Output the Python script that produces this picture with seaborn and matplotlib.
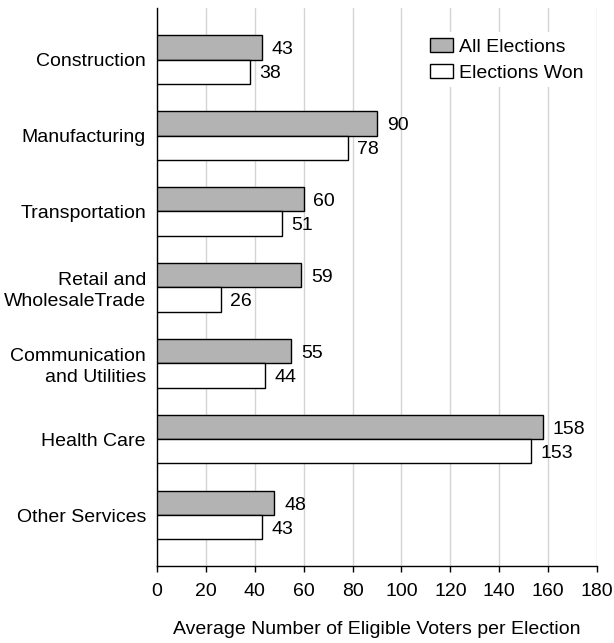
import pandas as pd
import numpy as np
import matplotlib
matplotlib.use("Agg")
import matplotlib.pyplot as plt
import seaborn as sns

# data
industries = ["Construction", "Manufacturing", "Transportation",
              "Retail and\nWholesaleTrade", "Communication\nand Utilities",
              "Health Care", "Other Services"]
all_elections = [43, 90, 60, 59, 55, 158, 48]
elections_won = [38, 78, 51, 26, 44, 153, 43]
series = ["All Elections", "Elections Won"]

df = pd.DataFrame({
    "industry": industries * 2,
    "voters": all_elections + elections_won,
    "series": [series[0]] * len(industries) + [series[1]] * len(industries),
})

sns.set_style("white")
plt.rcParams["font.family"] = ["Liberation Sans", "DejaVu Sans"]
plt.rcParams["font.size"] = 14
plt.rcParams["text.color"] = "black"
plt.rcParams["xtick.color"] = "black"
plt.rcParams["ytick.color"] = "black"
plt.rcParams["axes.labelcolor"] = "black"

fig = plt.figure(figsize=(6.14, 6.43), dpi=100)
ax = fig.add_axes([0.2557, 0.1198, 0.7166, 0.8678])

sns.barplot(data=df, y="industry", x="voters", hue="series", orient="h",
            palette={"All Elections": "#b3b3b3", "Elections Won": "white"},
            edgecolor="black", linewidth=1, width=0.64, ax=ax, zorder=3)

# value labels, nudged a little below the bar centre like the original
for c in ax.containers:
    for t in ax.bar_label(c, padding=7, fontsize=14):
        t.xyann = (7, -1.5)

ax.set_xlim(0, 180)
ax.set_ylim(6.67, -0.68)
ax.set_xticks(np.arange(0, 181, 20))
ax.xaxis.grid(True, color="#d4d4d4", linewidth=1, zorder=0)
ax.set_axisbelow(True)
for s in ["top", "right"]:
    ax.spines[s].set_visible(False)
for s in ["left", "bottom"]:
    ax.spines[s].set_color("black")
    ax.spines[s].set_linewidth(1)
ax.tick_params(axis="x", bottom=True, length=4.5, width=1, color="black",
               labelsize=14, pad=8)
ax.tick_params(axis="y", left=False, length=0, labelsize=14, pad=8)
for t in ax.get_yticklabels():
    t.set_linespacing(1.3)
ax.set_ylabel("")
ax.set_xlabel("Average Number of Eligible Voters per Election", fontsize=14,
              labelpad=15)

leg = ax.legend(loc="upper right", bbox_to_anchor=(1.004, 0.974), frameon=True,
                fontsize=14, handlelength=1.2, handleheight=0.72,
                handletextpad=0.3, labelspacing=0.42, borderpad=0.3)
leg.get_frame().set_edgecolor("none")
leg.get_frame().set_facecolor("white")
leg.get_frame().set_alpha(1)

fig.savefig("out.png", dpi=100)
